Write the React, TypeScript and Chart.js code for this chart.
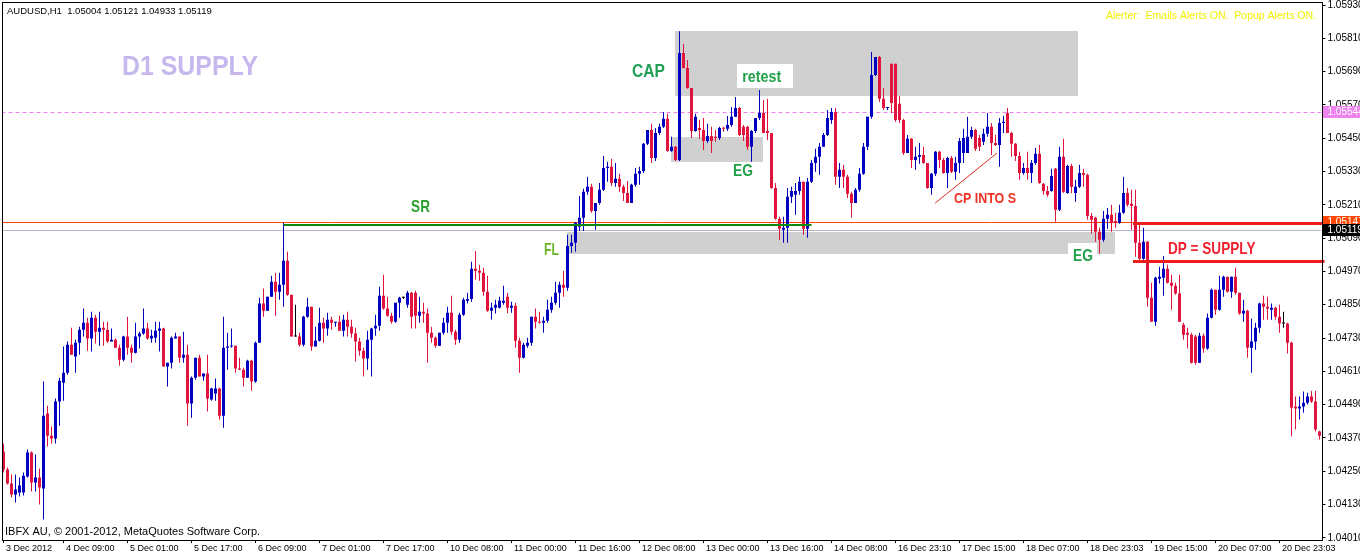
import React, { useEffect, useRef } from 'react';
import { Chart, registerables } from 'chart.js';

Chart.register(...registerables);

// ---- price data (points = price * 100000), one entry per H1 bar ----
const OPEN = [
  104321,104256,104206,104166,104173,104173,104231,104317,104209,104227,
  104188,104458,104378,104368,104501,104569,104605,104706,104663,104713,
  104760,104785,104728,104803,104753,104767,104760,104717,104724,104695,
  104652,104735,104695,104677,104735,104746,104764,104728,104731,104756,
  104764,104627,104641,104728,104735,104659,104670,104494,104587,104659,
  104591,104602,104508,104530,104548,104450,104695,104699,104702,104620,
  104616,104587,104648,104573,104713,104854,104828,104879,104933,104897,
  104922,105008,104886,104735,104735,104706,104807,104843,104699,104720,
  104785,104764,104796,104785,104789,104756,104796,104771,104746,104717,
  104684,104656,104724,104764,104774,104882,104836,104810,104789,104857,
  104875,104850,104893,104893,104810,104825,104818,104749,104731,104702,
  104749,104785,104821,104753,104724,104814,104864,104871,104980,104972,
  104965,104897,104828,104839,104839,104857,104879,104839,104846,104720,
  104659,104702,104713,104807,104789,104785,104792,104832,104857,104893,
  104922,104911,105062,105073,105131,105163,105257,105275,105188,105217,
  105264,105343,105347,105289,105304,105275,105253,105217,105282,105322,
  105332,105430,105480,105379,105469,105491,105520,105404,105419,105372,
  105757,105703,105631,105476,105487,105480,105440,105458,105455,105451,
  105487,105484,105498,105527,105559,105491,105491,105419,105476,105523,
  105541,105476,105469,105271,105160,105120,105127,105239,105246,105260,
  105293,105124,105293,105361,105383,105419,105462,105516,105545,105311,
  105336,105311,105250,105217,105264,105322,105419,105527,105678,105743,
  105592,105559,105718,105718,105574,105516,105397,105448,105372,105383,
  105390,105361,105271,105322,105401,105372,105325,105379,105329,105361,
  105397,105397,105455,105480,105451,105437,105466,105491,105433,105426,
  105505,105541,105469,105430,105386,105325,105343,105325,105361,105394,
  105286,105260,105260,105340,105192,105383,105253,105350,105253,105275,
  105325,105318,105170,105163,105113,105084,105160,105174,105152,105145,
  105181,105253,105214,105206,105073,105016,105077,104875,104789,104944,
  104947,104980,104929,104918,104890,104778,104749,104742,104735,104641,
  104738,104692,104803,104904,104832,104904,104951,104897,104951,104893,
  104818,104828,104695,104717,104767,104854,104843,104832,104839,104807,
  104782,104782,104713,104483,104476,104483,104497,104519,104501,104393,
];
const HIGH = [
  104350,104263,104238,104238,104227,104245,104328,104321,104310,104260,
  104573,104486,104411,104512,104587,104699,104717,104767,104724,104771,
  104836,104803,104825,104814,104825,104789,104789,104764,104728,104706,
  104738,104807,104706,104785,104753,104836,104785,104760,104789,104789,
  104767,104641,104735,104749,104735,104753,104706,104591,104659,104670,
  104602,104670,104551,104584,104551,104807,104749,104764,104702,104659,
  104623,104652,104652,104717,104875,104908,104879,104954,104965,104965,
  105145,105041,104886,104850,104749,104810,104875,104843,104771,104839,
  104803,104821,104807,104789,104810,104814,104825,104796,104767,104731,
  104695,104756,104767,104814,104915,104958,104879,104821,104857,104879,
  104879,104900,104896,104900,104879,104857,104836,104771,104735,104749,
  104803,104843,104882,104760,104821,104875,104893,105005,105044,104994,
  104983,104954,104857,104868,104879,104918,104893,104861,104857,104731,
  104713,104731,104807,104836,104825,104807,104868,104879,104933,104933,
  104972,105102,105102,105148,105242,105268,105311,105286,105217,105289,
  105386,105365,105376,105361,105322,105282,105296,105286,105343,105347,
  105433,105480,105502,105487,105502,105545,105538,105455,105422,105836,
  105790,105732,105631,105538,105516,105523,105502,105491,105480,105491,
  105491,105530,105563,105599,105563,105498,105494,105480,105523,105624,
  105588,105592,105469,105289,105167,105167,105271,105275,105289,105311,
  105293,105307,105372,105412,105433,105469,105552,105559,105559,105361,
  105354,105318,105257,105271,105343,105433,105527,105761,105743,105746,
  105631,105563,105718,105718,105602,105520,105462,105451,105419,105433,
  105419,105361,105325,105404,105404,105379,105383,105386,105383,105451,
  105484,105527,105491,105484,105462,105484,105541,105505,105462,105523,
  105530,105559,105473,105433,105401,105361,105401,105372,105415,105426,
  105289,105278,105340,105343,105419,105448,105354,105358,105300,105354,
  105340,105322,105181,105167,105127,105188,105199,105210,105181,105210,
  105311,105271,105264,105264,105138,105127,105080,104929,104951,104987,
  105026,104994,104958,104929,104958,104785,104767,104749,104742,104749,
  104746,104818,104908,104904,104954,104954,104951,104951,104983,104893,
  104868,104832,104800,104785,104857,104882,104879,104854,104843,104850,
  104825,104785,104717,104519,104519,104537,104533,104540,104540,104396,
];
const LOW = [
  104245,104202,104155,104137,104159,104162,104227,104177,104177,104130,
  104076,104339,104350,104350,104414,104504,104598,104670,104605,104670,
  104735,104684,104681,104710,104702,104702,104713,104717,104695,104630,
  104645,104670,104641,104674,104692,104742,104724,104713,104713,104681,
  104627,104555,104620,104728,104641,104641,104414,104443,104580,104591,
  104576,104465,104504,104504,104436,104407,104616,104695,104605,104616,
  104555,104587,104540,104569,104713,104807,104828,104879,104810,104868,
  104843,104882,104735,104735,104699,104699,104803,104684,104699,104717,
  104713,104738,104760,104771,104756,104735,104735,104731,104645,104666,
  104591,104616,104591,104738,104756,104832,104807,104782,104785,104803,
  104871,104839,104764,104764,104785,104785,104641,104713,104695,104702,
  104742,104749,104742,104706,104713,104810,104854,104861,104940,104936,
  104882,104825,104796,104818,104836,104850,104818,104821,104695,104605,
  104656,104695,104702,104764,104782,104749,104785,104821,104850,104839,
  104879,104900,105037,105041,105116,105116,105246,105181,105120,105210,
  105260,105293,105278,105275,105257,105224,105217,105217,105275,105282,
  105325,105426,105361,105368,105462,105487,105401,105401,105368,105368,
  105700,105628,105451,105473,105448,105408,105433,105397,105437,105444,
  105473,105476,105491,105527,105458,105440,105408,105365,105469,105516,
  105469,105444,105268,105156,105084,105073,105073,105217,105174,105246,
  105102,105091,105289,105329,105318,105419,105458,105502,105282,105271,
  105271,105235,105163,105217,105257,105318,105408,105520,105674,105581,
  105552,105552,105541,105509,105505,105390,105397,105343,105336,105358,
  105358,105268,105246,105314,105343,105322,105271,105325,105300,105325,
  105361,105397,105448,105404,105404,105426,105455,105390,105422,105347,
  105469,105469,105383,105368,105300,105318,105300,105289,105354,105286,
  105246,105239,105257,105149,105188,105253,105250,105253,105221,105271,
  105275,105156,105106,105077,105034,105077,105124,105113,105127,105142,
  105178,105203,105120,105023,105012,105012,104843,104789,104774,104926,
  104882,104926,104832,104886,104789,104724,104692,104638,104634,104641,
  104677,104688,104800,104814,104828,104879,104893,104875,104886,104814,
  104789,104659,104605,104688,104749,104796,104796,104796,104796,104749,
  104767,104674,104375,104400,104436,104461,104490,104497,104393,104364,
];
const CLOSE = [
  104256,104206,104166,104184,104198,104234,104317,104209,104227,104191,
  104450,104378,104368,104501,104576,104605,104706,104670,104713,104760,
  104785,104728,104803,104753,104767,104760,104717,104724,104695,104652,
  104735,104695,104677,104735,104746,104764,104728,104738,104756,104764,
  104627,104641,104731,104735,104659,104670,104494,104587,104659,104591,
  104602,104512,104548,104548,104450,104695,104699,104702,104620,104616,
  104587,104648,104573,104713,104854,104828,104879,104933,104897,104922,
  105008,104886,104735,104735,104706,104807,104843,104699,104720,104785,
  104764,104796,104785,104789,104756,104796,104771,104746,104717,104684,
  104656,104724,104764,104774,104882,104836,104810,104789,104857,104875,
  104875,104893,104807,104810,104825,104818,104749,104731,104702,104749,
  104785,104821,104753,104724,104814,104868,104871,104980,104972,104965,
  104897,104828,104839,104850,104864,104864,104839,104846,104720,104659,
  104706,104713,104807,104789,104785,104792,104832,104857,104893,104922,
  104911,105062,105073,105145,105163,105257,105275,105188,105217,105264,
  105343,105347,105289,105304,105275,105253,105217,105282,105322,105332,
  105430,105480,105379,105469,105491,105520,105404,105419,105372,105757,
  105703,105631,105476,105527,105480,105440,105458,105440,105451,105487,
  105484,105498,105527,105559,105462,105462,105419,105476,105523,105541,
  105469,105469,105271,105160,105124,105127,105239,105260,105260,105293,
  105124,105293,105361,105383,105419,105462,105523,105545,105311,105336,
  105311,105250,105217,105264,105322,105419,105527,105678,105743,105592,
  105559,105563,105577,105516,105516,105397,105448,105372,105383,105390,
  105361,105271,105322,105401,105372,105325,105379,105329,105361,105440,
  105451,105455,105480,105412,105419,105466,105491,105433,105426,105505,
  105509,105469,105430,105386,105325,105343,105325,105361,105394,105289,
  105260,105246,105314,105192,105383,105257,105350,105275,105275,105325,
  105318,105170,105156,105113,105084,105160,105174,105145,105145,105181,
  105253,105210,105206,105073,105016,105077,104875,104789,104947,104951,
  104980,104929,104918,104890,104789,104742,104742,104641,104641,104738,
  104692,104803,104904,104832,104904,104951,104897,104951,104893,104818,
  104828,104695,104717,104767,104854,104843,104836,104839,104807,104782,
  104782,104713,104479,104476,104483,104497,104519,104501,104400,104378,
];

// ---- axes ----
const X_TICK_BARS = [0, 15, 31, 47, 63, 79, 95, 111, 127, 143, 159, 175, 191, 207, 223, 239, 255, 271, 287, 303, 319];
const X_TICK_TEXT = [
  '3 Dec 2012', '4 Dec 09:00', '5 Dec 01:00', '5 Dec 17:00', '6 Dec 09:00', '7 Dec 01:00', '7 Dec 17:00',
  '10 Dec 08:00', '11 Dec 00:00', '11 Dec 16:00', '12 Dec 08:00', '13 Dec 00:00', '13 Dec 16:00',
  '14 Dec 08:00', '16 Dec 23:10', '17 Dec 15:00', '18 Dec 07:00', '18 Dec 23:03', '19 Dec 15:00',
  '20 Dec 07:00', '20 Dec 23:03',
];
const Y_TICKS = [1.0401, 1.0413, 1.0425, 1.0437, 1.0449, 1.0461, 1.0473, 1.0485, 1.0497, 1.0509, 1.0521, 1.0533, 1.0545, 1.0557, 1.0569, 1.0581, 1.0593];
const Y_MIN = 1.04002;
const Y_MAX = 1.05941;

// ---- price tags on the axis ----
const TAG_VALUES = [1.05544, 1.05147, 1.05119];
const TAG_COLORS = ['#EE82EE', '#FF4500', '#000000'];

// ---- horizontal levels ----
const PINK_LEVEL = 1.05544;
const ASK_LEVEL = 1.05147;
const BID_LEVEL = 1.05119;
const SR_LEVEL = 1.05141;
const SR_FROM = 70;
const SR_TO = 202;
const DP_LEVELS = [1.05144, 1.05008];
const DP_FROM = 282.4;
const CP_LINE_X = [232.9, 248.4];
const CP_LINE_Y = [1.05216, 1.05397];

// ---- rectangles (bar index range, price range) ----
const ZONE_FROM = [167.9, 166.9, 140.9];
const ZONE_TO = [268.6, 189.9, 277.9];
const ZONE_TOP = [1.05836, 1.05454, 1.05112];
const ZONE_BOTTOM = [1.05602, 1.05364, 1.05033];
const BOX_FROM = [183.4, 266.1];
const BOX_TO = [197.4, 273.4];
const BOX_TOP = [1.05717, 1.05072];
const BOX_BOTTOM = [1.05631, 1.05004];

// ---- text labels ----
const LABEL_TEXT = ['D1 SUPPLY', 'CAP', 'retest', 'EG', 'SR', 'FL', 'CP INTO S', 'EG', 'DP = SUPPLY'];
const LABEL_X = [29.6, 157.1, 184.7, 182.4, 101.9, 135.1, 237.6, 267.4, 291.1];
const LABEL_Y = [1.05678, 1.05671, 1.05652, 1.05314, 1.05184, 1.05029, 1.05216, 1.05008, 1.05033];
const LABEL_SIZE = [28, 19, 17, 17, 17, 17, 14, 17, 17];
const LABEL_SX = [0.89, 0.82, 0.84, 0.81, 0.8, 0.72, 0.89, 0.81, 0.8];
const LABEL_COLOR = ['#C6B8EC', '#1FA055', '#22A04A', '#22A04A', '#2EA030', '#6BB52A', '#F03020', '#22A04A', '#F02030'];

const BULL = '#0000C0';
const BEAR = '#E0143C';
const DOJI = '#000000';
const ZONE_COLOR = '#D0D0D0';
const FONT = '"Liberation Sans", Arial, sans-serif';

const overlay = {
  id: 'mt4Overlay',
  beforeDatasetsDraw(chart: any) {
    const { ctx, chartArea: a, scales } = chart;
    const xs = scales.x;
    const ys = scales.y;
    ctx.save();
    ctx.beginPath();
    ctx.rect(a.left, a.top, a.right - a.left, a.bottom - a.top);
    ctx.clip();
    ctx.fillStyle = ZONE_COLOR;
    for (let k = 0; k < ZONE_FROM.length; k++) {
      const x0 = Math.round(xs.getPixelForValue(ZONE_FROM[k]));
      const x1 = Math.round(xs.getPixelForValue(ZONE_TO[k]));
      const y0 = Math.round(ys.getPixelForValue(ZONE_TOP[k]));
      const y1 = Math.round(ys.getPixelForValue(ZONE_BOTTOM[k]));
      ctx.fillRect(x0, y0, x1 - x0, y1 - y0);
    }
    const hline = (v: number, color: string, dash: number[]) => {
      const y = Math.round(ys.getPixelForValue(v)) + 0.5;
      ctx.beginPath();
      ctx.setLineDash(dash);
      ctx.strokeStyle = color;
      ctx.lineWidth = 1;
      ctx.moveTo(a.left, y);
      ctx.lineTo(a.right, y);
      ctx.stroke();
      ctx.setLineDash([]);
    };
    hline(PINK_LEVEL, '#EE82EE', [4, 3]);
    hline(BID_LEVEL, '#BDB5CC', []);
    hline(ASK_LEVEL, '#FF4500', []);
    ctx.restore();
  },
  afterDatasetsDraw(chart: any) {
    const { ctx, chartArea: a, scales } = chart;
    const xs = scales.x;
    const ys = scales.y;
    ctx.save();
    // SR line
    {
      const y = Math.round(ys.getPixelForValue(SR_LEVEL)) + 1;
      ctx.strokeStyle = '#0A8A0A';
      ctx.lineWidth = 2;
      ctx.beginPath();
      ctx.moveTo(xs.getPixelForValue(SR_FROM), y);
      ctx.lineTo(xs.getPixelForValue(SR_TO), y);
      ctx.stroke();
    }
    // DP = SUPPLY thick lines
    ctx.strokeStyle = '#EE1C1C';
    ctx.lineWidth = 3;
    for (const v of DP_LEVELS) {
      const y = Math.round(ys.getPixelForValue(v)) + 0.5;
      ctx.beginPath();
      ctx.moveTo(Math.round(xs.getPixelForValue(DP_FROM)), y);
      ctx.lineTo(a.right + 3, y);
      ctx.stroke();
    }
    // CP diagonal
    ctx.strokeStyle = '#E8281E';
    ctx.lineWidth = 1;
    ctx.beginPath();
    ctx.moveTo(xs.getPixelForValue(CP_LINE_X[0]), ys.getPixelForValue(CP_LINE_Y[0]));
    ctx.lineTo(xs.getPixelForValue(CP_LINE_X[1]), ys.getPixelForValue(CP_LINE_Y[1]));
    ctx.stroke();
    // white label boxes
    ctx.fillStyle = '#FFFFFF';
    for (let k = 0; k < BOX_FROM.length; k++) {
      const x0 = Math.round(xs.getPixelForValue(BOX_FROM[k]));
      const x1 = Math.round(xs.getPixelForValue(BOX_TO[k]));
      const y0 = Math.round(ys.getPixelForValue(BOX_TOP[k]));
      const y1 = Math.round(ys.getPixelForValue(BOX_BOTTOM[k]));
      ctx.fillRect(x0, y0, x1 - x0, y1 - y0);
    }
    // text labels
    ctx.textBaseline = 'alphabetic';
    ctx.textAlign = 'left';
    for (let k = 0; k < LABEL_TEXT.length; k++) {
      const x = xs.getPixelForValue(LABEL_X[k]);
      const y = ys.getPixelForValue(LABEL_Y[k]);
      ctx.save();
      ctx.translate(x, y);
      ctx.scale(LABEL_SX[k], 1);
      ctx.font = `bold ${LABEL_SIZE[k]}px ${FONT}`;
      ctx.fillStyle = LABEL_COLOR[k];
      ctx.fillText(LABEL_TEXT[k], 0, 0);
      ctx.restore();
    }
    ctx.restore();
  },
  afterDraw(chart: any) {
    const { ctx, chartArea: a, scales, width } = chart;
    const ys = scales.y;
    ctx.save();
    // frame
    ctx.strokeStyle = '#000';
    ctx.lineWidth = 1;
    const l = Math.round(a.left) + 0.5;
    const r = Math.round(a.right) + 0.5;
    const t = Math.round(a.top) + 0.5;
    const b = Math.round(a.bottom) + 0.5;
    ctx.strokeRect(l, t, r - l, b - t);
    // price tags
    ctx.font = `10px ${FONT}`;
    ctx.textBaseline = 'middle';
    ctx.textAlign = 'left';
    for (let k = 0; k < TAG_VALUES.length; k++) {
      const y = Math.round(ys.getPixelForValue(TAG_VALUES[k]));
      ctx.fillStyle = TAG_COLORS[k];
      ctx.fillRect(r + 0.5, y - 6, width - r, 12);
      ctx.fillStyle = '#FFFFFF';
      ctx.fillText(TAG_VALUES[k].toFixed(5), r + 5, y + 0.5);
    }
    // header / footer texts
    ctx.textBaseline = 'alphabetic';
    ctx.fillStyle = '#000';
    ctx.font = `9.5px ${FONT}`;
    ctx.fillText('AUDUSD,H1  1.05004 1.05121 1.04933 1.05119', 7, 14);
    ctx.font = `11px ${FONT}`;
    ctx.fillText('IBFX AU, \u00A9 2001-2012, MetaQuotes Software Corp.', 5, 535);
    ctx.font = `10.5px ${FONT}`;
    ctx.fillStyle = '#F0F000';
    ctx.textAlign = 'right';
    ctx.fillText('Alerter:  Emails Alerts ON.  Popup Alerts ON.', 1316, 19);
    ctx.restore();
  },
};

export default function App() {
  const ref = useRef<HTMLCanvasElement>(null);
  useEffect(() => {
    const canvas = ref.current;
    if (!canvas) return;
    const colors = OPEN.map((o, i) => (CLOSE[i] > o ? BULL : CLOSE[i] < o ? BEAR : DOJI));
    const chart = new Chart(canvas, {
      type: 'bar',
      data: {
        labels: OPEN.map((_, i) => String(i)),
        datasets: [
          {
            label: 'range',
            data: LOW.map((lo, i) => [lo / 100000, HIGH[i] / 100000]),
            backgroundColor: colors,
            borderWidth: 0,
            barThickness: 1,
            grouped: false,
            inflateAmount: 0,
            order: 2,
          } as any,
          {
            label: 'body',
            data: OPEN.map((o, i) => [Math.min(o, CLOSE[i]) / 100000, Math.max(o, CLOSE[i]) / 100000]),
            backgroundColor: colors,
            borderWidth: 0,
            barThickness: 3,
            grouped: false,
            inflateAmount: 0,
            minBarLength: 1,
            order: 1,
          } as any,
        ],
      },
      options: {
        responsive: false,
        maintainAspectRatio: false,
        devicePixelRatio: 1,
        animation: false,
        events: [],
        layout: { padding: { left: 1.5, top: 2, right: 0, bottom: 0 } },
        plugins: { legend: { display: false }, tooltip: { enabled: false }, title: { display: false } },
        scales: {
          x: {
            type: 'category',
            offset: true,
            grid: {
              offset: false,
              drawOnChartArea: false,
              drawTicks: true,
              tickLength: 3,
              color: (c: any) => (X_TICK_BARS.includes(c.index) ? '#000' : 'rgba(0,0,0,0)'),
            },
            border: { display: false },
            ticks: {
              autoSkip: false,
              maxRotation: 0,
              minRotation: 0,
              align: 'start',
              padding: 0,
              color: '#000',
              font: { family: FONT, size: 9 },
              callback: (_v: any, i: number) => {
                const k = X_TICK_BARS.indexOf(i);
                return k >= 0 ? ' ' + X_TICK_TEXT[k] : '';
              },
            },
            afterFit: (s: any) => {
              s.height = 16;
              s.paddingLeft = 0;
              s.paddingRight = 0;
            },
          },
          y: {
            type: 'linear',
            position: 'right',
            min: Y_MIN,
            max: Y_MAX,
            grid: { drawOnChartArea: false, drawTicks: true, tickLength: 4, color: '#000' },
            border: { display: false },
            afterBuildTicks: (s: any) => {
              s.ticks = Y_TICKS.map((v) => ({ value: v }));
            },
            ticks: {
              padding: 2,
              color: '#000',
              font: { family: FONT, size: 10 },
              callback: (v: any) => Number(v).toFixed(5),
            },
            afterFit: (s: any) => {
              s.width = 38.5;
              s.paddingTop = 0;
              s.paddingBottom = 0;
            },
          },
        },
      } as any,
      plugins: [overlay],
    });
    return () => chart.destroy();
  }, []);
  return (
    <div style={{ position: 'absolute', left: 0, top: 0, width: 1360, height: 556, background: '#fff', overflow: 'hidden' }}>
      <canvas ref={ref} width={1360} height={556} style={{ display: 'block', width: 1360, height: 556 }} />
    </div>
  );
}
